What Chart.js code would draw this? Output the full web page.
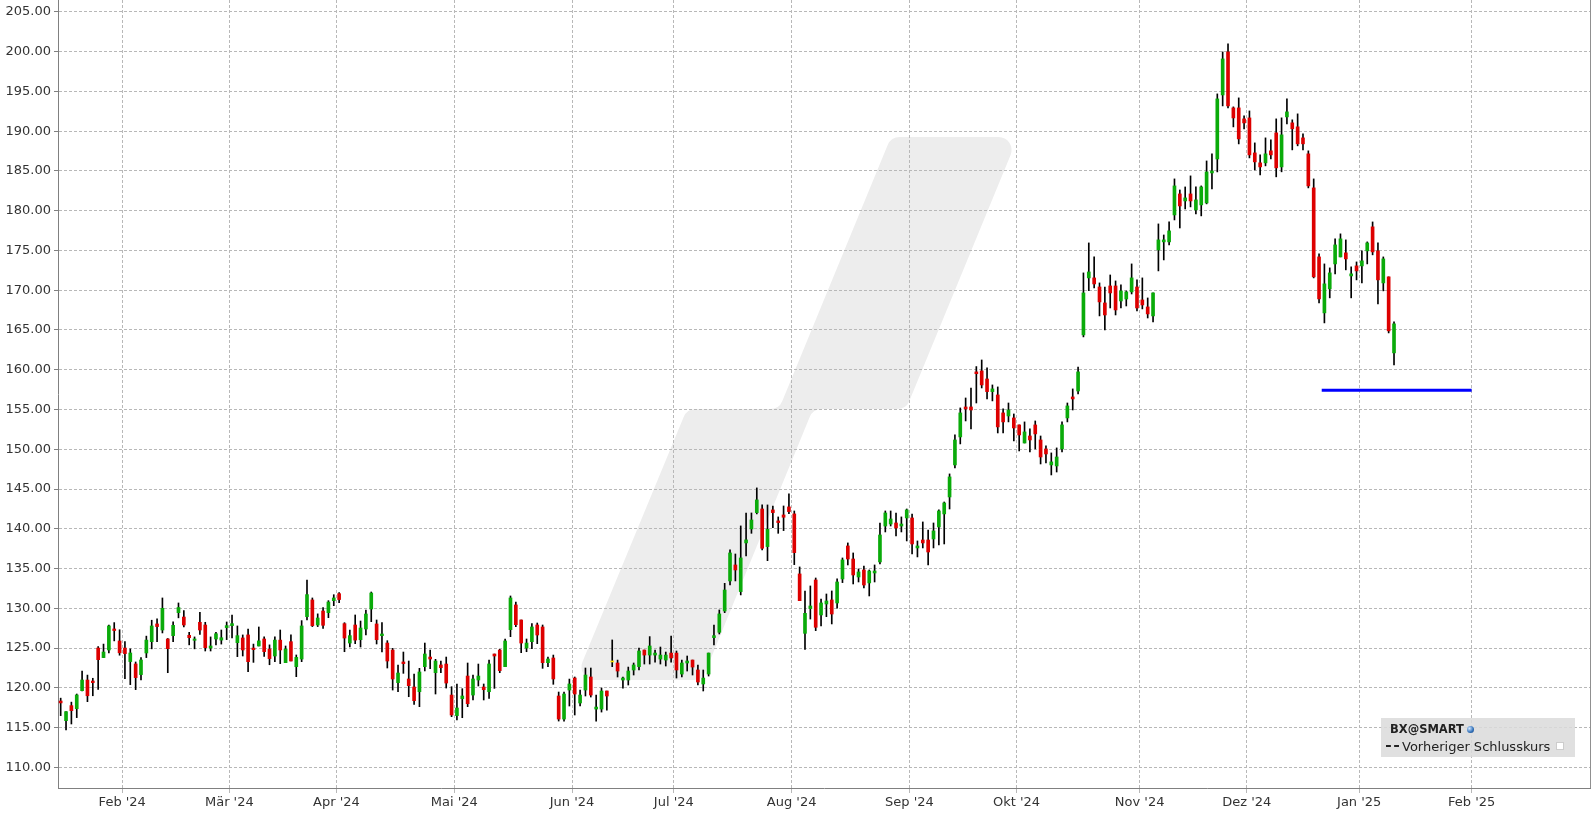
<!DOCTYPE html>
<html>
<head>
<meta charset="utf-8">
<script src="https://cdn.jsdelivr.net/npm/chart.js@4.4.1/dist/chart.umd.min.js"></script>
<style>
html,body{margin:0;padding:0;background:#fff;}
#wrap{position:relative;width:1596px;height:816px;overflow:hidden;}
#c{position:absolute;left:0;top:0;}
#legend{position:absolute;left:1381px;top:718px;width:194px;height:39px;background:rgba(218,218,218,0.85);color:#222;font-family:"DejaVu Sans",sans-serif;}
#legend .l1{position:absolute;left:9px;top:4px;font-size:11.5px;font-weight:bold;white-space:nowrap;}
#legend .globe{display:inline-block;width:7px;height:7px;border-radius:50%;background:radial-gradient(circle at 35% 35%,#cfe6ff,#2f6fb8 60%,#173f75);margin-left:3px;vertical-align:0px;}
#legend .l2{position:absolute;left:5px;top:21px;font-size:13px;white-space:nowrap;color:#222;}
#legend .dash{display:inline-block;width:13px;border-top:2px dashed #222;vertical-align:4px;margin-right:3px;}
#legend .sq{display:inline-block;width:6px;height:6px;background:#fff;border:1px solid #ccc;margin-left:6px;vertical-align:1px;}
</style>
</head>
<body>
<div id="wrap">
<canvas id="c" width="1596" height="816"></canvas>
<div id="legend">
  <div class="l1">BX@SMART<span class="globe"></span></div>
  <div class="l2"><span class="dash"></span>Vorheriger Schlusskurs<span class="sq"></span></div>
</div>
</div>
<script>
// ---- Data (trading-day index 0 = 16 Jan 2024) ----
const monthLabels = ["Feb '24","Mär '24","Apr '24","Mai '24","Jun '24","Jul '24","Aug '24","Sep '24","Okt '24","Nov '24","Dez '24","Jan '25","Feb '25"];
const monthStartIndex = [12,32,52,74,96,115,137,159,179,202,222,243,264];
const priceTicks = [110,115,120,125,130,135,140,145,150,155,160,165,170,175,180,185,190,195,200,205];

const openPrices = [
118.34,115.87,117.76,117.38,119.64,120.98,120.85,125.0,123.8,124.76,
127.4,125.89,125.0,123.3,123.0,121.66,124.38,125.8,128.03,127.27,
126.14,126.56,129.45,128.9,126.6,125.97,128.24,127.9,125.0,126.14,
126.0,127.57,127.82,125.68,126.27,126.65,125.0,125.26,126.14,124.88,
124.0,126.0,123.16,125.8,122.66,123.62,128.95,131.05,127.9,129.66,
129.45,130.96,131.84,128.07,125.63,127.9,126.05,127.4,129.91,128.03,
126.56,125.63,124.75,120.65,123.25,121.11,120.1,119.51,122.66,123.87,
121.9,122.87,122.99,119.09,116.5,118.63,121.48,119.09,120.98,120.1,
119.51,124.25,124.75,122.66,127.31,130.42,128.53,125.0,125.8,127.9,
127.65,123.16,123.75,118.97,116.07,119.72,121.23,118.09,119.72,121.36,
117.33,117.33,119.6,123.25,123.12,120.98,120.98,122.24,122.66,124.75,
124.12,124.12,123.62,123.49,124.37,124.37,121.73,123.12,123.49,122.24,
120.48,121.73,126.31,126.98,129.66,133.44,135.45,132.1,138.22,139.98,
142.03,142.49,137.76,142.37,140.99,141.74,142.75,141.87,134.32,126.85,
129.96,133.56,129.16,130.54,131.05,130.67,133.69,137.84,136.2,133.94,
134.82,133.19,134.44,135.83,140.35,140.6,140.73,140.35,141.36,141.36,
137.59,138.59,138.59,138.72,140.23,141.87,144.0,148.03,151.55,155.32,
155.32,159.73,159.85,158.84,157.25,156.83,154.57,154.19,153.94,153.06,
150.79,151.67,153.06,151.17,150.04,148.03,147.9,150.04,153.94,156.58,
157.33,164.38,171.55,171.55,170.41,168.4,170.54,170.54,168.65,168.9,
169.79,170.41,168.78,167.9,166.77,175.07,176.08,176.08,179.47,182.11,
181.23,182.11,180.1,180.73,180.98,184.75,186.51,194.56,199.97,192.93,
192.93,191.55,191.67,187.27,186.02,186.02,187.53,189.79,185.51,191.8,
191.05,190.55,189.16,187.15,182.87,174.19,167.15,170.17,173.31,174.19,
174.7,171.8,173.06,173.06,174.95,177.97,174.95,170.92,171.68,162.12];

const highPrices = [
118.7,117.0,118.2,119.22,122.1,121.6,121.2,125.18,125.5,127.9,
128.2,127.3,125.8,124.9,123.25,123.8,126.5,128.5,128.66,131.3,
126.2,128.3,130.67,129.7,126.98,126.4,129.5,128.24,126.4,126.98,
127.27,128.28,129.16,127.78,126.65,127.4,125.5,127.65,126.4,125.4,
126.4,127.27,125.26,126.65,124.13,128.45,133.56,131.3,129.3,130.08,
130.96,131.71,131.97,128.19,127.27,129.16,128.4,129.78,132.05,128.53,
128.2,125.93,124.96,122.87,124.5,123.37,121.74,122.45,125.63,124.75,
123.58,123.37,123.87,120.14,120.48,119.89,123.12,121.61,122.99,120.48,
123.5,124.25,124.84,126.14,131.55,130.79,128.53,126.14,128.07,128.15,
127.9,123.87,124.12,119.47,119.47,121.1,121.36,119.72,122.49,122.49,
119.09,119.97,119.6,126.02,123.49,121.36,122.61,123.12,125.0,124.75,
126.44,124.75,125.13,124.5,126.5,124.63,123.49,124.0,123.49,122.87,
122.24,124.37,127.9,129.79,133.14,137.34,136.83,140.36,141.99,141.99,
145.14,143.0,143.0,142.87,141.49,142.87,144.38,142.24,135.2,132.18,
132.81,133.81,131.17,131.8,132.18,133.69,136.33,138.22,136.96,134.95,
135.32,134.82,135.45,140.73,142.24,142.24,141.99,141.49,142.49,141.86,
138.47,140.86,139.85,140.73,142.37,143.37,146.9,151.8,155.2,156.45,
157.71,160.4,161.23,160.23,158.09,157.84,155.07,155.82,154.44,153.06,
153.44,152.56,153.56,151.67,150.42,149.54,150.17,153.44,155.82,157.59,
160.35,172.18,175.95,174.19,170.92,170.41,171.92,171.17,170.67,169.91,
173.31,171.3,171.55,169.03,169.66,178.34,176.95,178.59,184.0,182.61,
182.99,184.38,182.99,183.12,186.26,187.14,194.69,199.97,200.98,193.06,
194.19,191.92,192.55,188.53,187.02,189.16,188.91,191.55,191.68,194.07,
191.43,192.18,189.67,187.53,184.0,174.57,173.31,172.81,176.46,177.09,
176.33,172.94,173.56,174.95,176.08,178.59,175.95,174.19,171.68,166.02];

const lowPrices = [
116.5,114.7,115.45,116.25,119.6,118.26,119.0,119.8,123.8,124.4,
125.9,124.1,121.15,120.4,119.77,121.0,123.8,124.9,125.8,126.9,
121.9,125.8,128.8,127.65,125.4,124.9,126.7,124.63,124.63,125.4,
125.5,126.06,126.27,123.92,124.0,122.03,123.2,125.26,123.96,122.9,
123.29,123.04,123.16,123.37,121.4,123.29,128.53,127.7,127.7,127.48,
128.82,130.33,130.7,124.54,125.13,125.55,125.13,126.64,128.32,125.51,
124.5,122.49,119.72,119.51,121.82,118.88,117.92,117.63,122.12,122.41,
119.22,121.9,119.97,116.37,115.95,116.24,117.63,118.47,120.23,118.47,
118.68,119.93,121.9,122.66,126.43,127.69,124.42,124.54,124.92,125.55,
122.45,122.66,120.44,115.82,115.82,117.71,116.58,117.71,118.97,118.84,
115.82,116.95,117.2,122.66,121.36,119.97,120.35,121.61,122.24,122.99,
122.99,123.24,122.99,122.74,123.24,121.23,121.36,122.11,121.61,120.35,
119.6,121.48,125.39,126.77,129.45,132.93,133.44,131.68,136.58,139.43,
141.87,137.34,135.99,140.15,139.43,139.77,141.91,135.49,130.96,124.84,
128.65,127.19,127.78,128.95,128.03,130.0,133.23,135.45,133.06,133.31,
132.56,131.55,133.31,135.57,139.6,140.35,139.1,139.6,138.47,136.83,
136.46,137.59,135.45,137.59,137.97,138.09,142.49,147.65,150.67,153.56,
152.56,155.82,157.71,156.33,156.08,152.05,152.05,153.44,151.05,149.79,
150.79,149.66,150.04,148.15,148.28,146.77,147.14,149.66,153.44,154.94,
156.96,164.13,169.95,170.29,166.77,165.0,167.77,166.89,167.77,168.02,
169.53,167.39,167.65,166.51,166.01,172.43,173.81,175.7,178.84,177.83,
180.22,180.48,179.6,179.35,180.86,182.74,184.88,193.18,192.93,190.54,
188.4,190.29,186.64,185.13,184.51,185.64,186.52,184.26,184.89,190.92,
187.65,188.16,187.65,182.87,171.55,168.41,165.89,169.04,172.06,174.19,
172.56,169.04,171.3,170.92,173.31,174.45,168.28,169.92,164.63,160.61];

const closePrices = [
118.1,117.0,117.13,119.1,120.98,119.0,120.65,123.54,124.5,127.78,
127.2,124.4,124.3,124.38,121.28,123.5,126.0,127.78,127.7,130.0,
124.92,127.86,130.1,127.9,126.3,126.14,127.27,125.05,125.26,126.8,
126.3,127.82,128.07,126.56,124.76,123.29,124.8,125.9,124.55,123.67,
126.0,124.76,124.88,123.37,123.83,127.78,131.72,127.82,128.78,127.86,
130.79,131.3,131.1,126.26,126.56,126.0,127.52,129.28,131.92,126.05,
126.77,123.37,121.11,121.86,123.04,120.27,118.38,121.99,124.25,123.62,
123.37,122.53,120.6,116.58,117.46,118.97,118.0,121.11,121.48,119.76,
123.0,124.0,122.16,125.89,131.3,127.94,125.63,125.63,127.65,126.64,
123.16,123.62,121.11,116.07,119.22,120.48,119.22,119.09,121.61,119.09,
117.58,119.6,118.97,123.25,122.11,121.23,122.11,122.87,124.63,124.12,
125.26,124.37,124.12,124.12,123.75,122.24,123.12,123.37,122.61,120.73,
121.23,124.37,126.56,129.29,132.3,136.96,134.82,136.33,138.6,141.11,
143.63,137.55,139.94,142.03,140.78,141.45,142.16,137.0,130.96,129.37,
130.29,127.61,130.67,130.92,129.28,133.31,136.08,136.2,134.19,134.57,
132.93,134.69,134.69,139.22,141.99,141.23,140.1,140.6,142.37,138.09,
137.84,138.22,137.08,139.73,142.24,143.25,146.52,151.17,154.57,155.07,
154.94,159.5,158.09,157.25,157.59,152.81,153.44,154.94,152.68,151.8,
152.18,151.17,151.93,149.03,149.41,148.41,149.03,153.06,155.45,156.33,
159.73,169.66,172.3,170.79,168.53,166.89,169.66,167.52,169.91,169.79,
171.55,167.77,168.15,167.02,169.66,176.33,176.33,177.46,183.12,180.6,
181.61,181.23,181.36,182.99,184.88,185.0,194.06,199.09,193.18,191.67,
189.03,191.04,187.02,186.14,185.51,187.15,187.02,185.39,189.54,192.43,
190.3,188.41,188.41,183.12,171.68,168.91,170.8,172.18,175.7,176.46,
173.94,172.06,172.43,173.69,175.95,174.82,171.3,173.94,164.89,165.77];

const refLineValue = 157.42;   // blue reference line level
const refLineStart = 235.5;    // trading-day index where it starts
const refLineEnd = 263.5;      // trading-day index where it ends

// ---- Colours ----
const UP = '#0aab0a', DOWN = '#dd0000', FLAT = '#f5e000';
const bodyColors = openPrices.map((o,i)=> closePrices[i] > o ? UP : (closePrices[i] < o ? DOWN : FLAT));

const watermark = {
  id: 'watermark',
  beforeDraw(chart){
    const ctx = chart.ctx;
    const pts = [[575,680],[687,409],[779,409],[891,137],[1018,137],[906,409],[813,409],[702,680]];
    const r = 13;
    ctx.save();
    ctx.fillStyle = '#ededed';
    ctx.beginPath();
    const n = pts.length;
    const mid = (a,b)=>[(a[0]+b[0])/2,(a[1]+b[1])/2];
    let start = mid(pts[n-1], pts[0]);
    ctx.moveTo(start[0], start[1]);
    for (let i=0;i<n;i++){
      const p = pts[i], q = pts[(i+1)%n];
      ctx.arcTo(p[0],p[1],q[0],q[1],r);
    }
    ctx.closePath();
    ctx.fill();
    ctx.restore();
  },
  afterDraw(chart){
    const {ctx, chartArea} = chart;
    ctx.save();
    ctx.strokeStyle = '#909090';
    ctx.lineWidth = 1;
    ctx.beginPath();
    ctx.moveTo(Math.round(chartArea.right)+0.5, chartArea.top);
    ctx.lineTo(Math.round(chartArea.right)+0.5, chartArea.bottom);
    ctx.stroke();
    ctx.restore();
  }
};

const FONT = {family:'"DejaVu Sans", sans-serif', size:13};
const GRID = '#b8b8b8';

new Chart(document.getElementById('c'), {
  type: 'bar',
  data: {
    datasets: [
      {
        type: 'line',
        data: [{x:refLineStart, y:refLineValue},{x:refLineEnd, y:refLineValue}],
        borderColor: '#0000ff',
        borderWidth: 3,
        pointRadius: 0,
        fill: false
      },
      {
        data: openPrices.map((o,i)=>({x:i, y:[o, closePrices[i]]})),
        backgroundColor: bodyColors,
        borderWidth: 0,
        barThickness: 3,
        minBarLength: 1,
        grouped: false
      },
      {
        data: lowPrices.map((l,i)=>({x:i, y:[l, highPrices[i]]})),
        backgroundColor: '#000000',
        borderWidth: 0,
        barThickness: 1,
        grouped: false
      }
    ]
  },
  options: {
    responsive: false,
    animation: false,
    devicePixelRatio: 1,
    layout: {padding: {left:0, right:6, top:0, bottom:0}},
    plugins: {legend:{display:false}, tooltip:{enabled:false}},
    scales: {
      x: {
        type: 'linear',
        min: -0.5,
        max: 285.6,
        offset: false,
        grid: {offset:false, color:GRID, lineWidth:1, tickLength:5, tickColor:GRID, tickBorderDash:[]},
        border: {display:true, color:'#808080', width:1, dash:[3,2]},
        afterBuildTicks: s => { s.ticks = monthStartIndex.map(i => ({value: i - 0.5})); },
        ticks: {autoSkip:false, maxRotation:0, minRotation:0, padding:2, color:'#333', font:FONT,
                callback: (v, i) => monthLabels[i]},
        afterFit: s => { s.height = 28; s.paddingLeft = 0; s.paddingRight = 0; }
      },
      y: {
        type: 'linear',
        position: 'left',
        min: 107.4,
        max: 206.5,
        grid: {color:GRID, lineWidth:1, tickLength:4, tickColor:'#808080', tickBorderDash:[]},
        border: {display:true, color:'#808080', width:1, dash:[3,2]},
        afterBuildTicks: s => { s.ticks = priceTicks.map(v => ({value:v})); },
        ticks: {color:'#333', padding:3, font:FONT, callback: v => Number(v).toFixed(2)},
        afterFit: s => { s.width = 58; s.paddingTop = 0; s.paddingBottom = 0; }
      }
    }
  },
  plugins: [watermark]
});
</script>
</body>
</html>
